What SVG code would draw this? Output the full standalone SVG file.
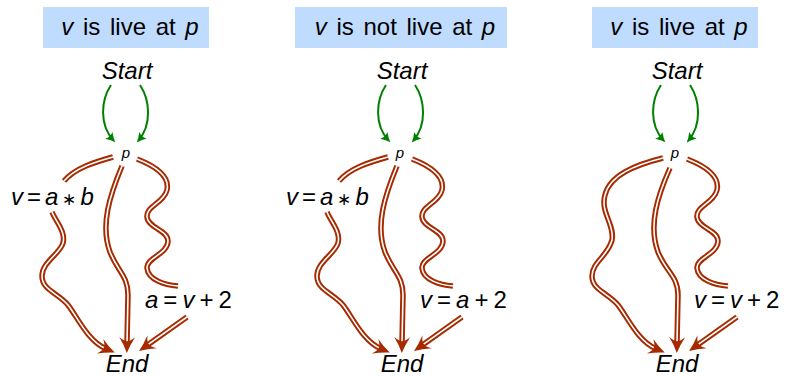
<svg xmlns="http://www.w3.org/2000/svg" width="787" height="376" viewBox="0 0 787 376">
<style>
  .title-box { fill: #bfdbfe; }
  .t { font-family: "Liberation Sans", Arial, sans-serif; fill: #000; }
  .title { font-size: 24px; word-spacing: 3px; }
  .node { font-size: 24px; font-style: italic; }
  .pnode { font-size: 15px; font-style: italic; }
  .lbl { font-size: 24px; }
  .i { font-style: italic; }
  .ast { font-size: 17px; }
  .g { fill: none; stroke: #008000; stroke-width: 2; marker-end: url(#ga); }
  .ro { fill: none; stroke: #a52a00; stroke-width: 5.5; }
  .ri { fill: none; stroke: #fff; stroke-width: 1.6; }
  .ra { marker-end: url(#ra); }
</style>
<defs>
  <marker id="ga" markerUnits="userSpaceOnUse" markerWidth="14" markerHeight="12" viewBox="-10 -6 14 12" refX="0" refY="0" orient="auto">
    <path d="M2.5,0 Q-2,-1.5 -7,-5 Q-4.5,0 -7,5 Q-2,1.5 2.5,0 Z" fill="#008000"/>
  </marker>
  <marker id="ra" markerUnits="userSpaceOnUse" markerWidth="20" markerHeight="20" viewBox="-8 -10 20 20" refX="0" refY="0" orient="auto">
    <path d="M10,0 Q2,-3 -6,-8 Q-1,-2 -2,0 Q-1,2 -6,8 Q2,3 10,0 Z" fill="#a52a00"/>
  </marker>
</defs>

<!-- Panel 1 -->
<g id="panel1">
  <g id="p1-title">
    <rect class="title-box" x="43" y="7" width="166" height="41"/>
    <text class="t title" x="130" y="35" text-anchor="middle"><tspan class="i">v</tspan> is live at <tspan class="i">p</tspan></text>
  </g>
  <g id="p1-start"><text class="t node" x="127" y="79" text-anchor="middle">Start</text></g>
  <g id="p1-p"><text class="t pnode" x="126" y="158" text-anchor="middle">p</text></g>
  <g id="p1-end"><text class="t node" x="127" y="372" text-anchor="middle">End</text></g>
  <g id="p1-lbl-left"><text class="t lbl" x="11" y="205"><tspan class="i">v</tspan><tspan dx="4">=</tspan><tspan class="i" dx="4">a</tspan><tspan class="ast" dx="4">∗</tspan><tspan class="i" dx="4">b</tspan></text></g>
  <g id="p1-lbl-right"><text class="t lbl" x="145" y="308"><tspan class="i">a</tspan><tspan dx="5">=</tspan><tspan class="i" dx="5">v</tspan><tspan dx="5">+</tspan><tspan dx="5">2</tspan></text></g>
  <g id="p1-connectors">
    <path class="g" d="M111,85 C101,100 99,125 113.6,140.5"/>
    <path class="g" d="M140,85 C150,100 152,125 138.4,140.5"/>
    <g id="p1-left">
      <path class="ro" d="M113,157 C95,162 75,168 64,181"/>
      <path class="ri" d="M113,157 C95,162 75,168 64,181"/>
      <path class="ro" d="M52,212 C56,222 66,232 63,243 C60,254 42,262 42,276 C42,290 58,293 68,305 C78,318 88,341 105.6,348.6"/>
      <path class="ri ra" d="M52,212 C56,222 66,232 63,243 C60,254 42,262 42,276 C42,290 58,293 68,305 C78,318 88,341 105.6,348.6"/>
    </g>
    <g id="p1-mid">
      <path class="ro" d="M122,166 C110,195 100,225 110,252 C118,272 128,276 128,295 L127,343"/>
      <path class="ri ra" d="M122,166 C110,195 100,225 110,252 C118,272 128,276 128,295 L127,343"/>
    </g>
    <g id="p1-right">
      <path class="ro" d="M137,159 C155,166 170,176 167,190 C164,203 146,206 147,217 C148,228 168,230 168,241 C168,254 146,258 147,268 C148,280 165,285 178,286"/>
      <path class="ri" d="M137,159 C155,166 170,176 167,190 C164,203 146,206 147,217 C148,228 168,230 168,241 C168,254 146,258 147,268 C148,280 165,285 178,286"/>
      <path class="ro" d="M187,317 L147.2,345.2"/>
      <path class="ri ra" d="M187,317 L147.2,345.2"/>
    </g>
  </g>
</g>

<!-- Panel 2 -->
<g id="panel2" transform="translate(275,0)">
  <g id="p2-title">
    <rect class="title-box" x="20" y="7" width="212" height="41"/>
    <text class="t title" x="130" y="35" text-anchor="middle"><tspan class="i">v</tspan> is not live at <tspan class="i">p</tspan></text>
  </g>
  <g id="p2-start"><text class="t node" x="127" y="79" text-anchor="middle">Start</text></g>
  <g id="p2-p"><text class="t pnode" x="125" y="158" text-anchor="middle">p</text></g>
  <g id="p2-end"><text class="t node" x="127" y="372" text-anchor="middle">End</text></g>
  <g id="p2-lbl-left"><text class="t lbl" x="11" y="205"><tspan class="i">v</tspan><tspan dx="4">=</tspan><tspan class="i" dx="4">a</tspan><tspan class="ast" dx="4">∗</tspan><tspan class="i" dx="4">b</tspan></text></g>
  <g id="p2-lbl-right"><text class="t lbl" x="145" y="308"><tspan class="i">v</tspan><tspan dx="5">=</tspan><tspan class="i" dx="5">a</tspan><tspan dx="5">+</tspan><tspan dx="5">2</tspan></text></g>
  <g id="p2-connectors">
    <path class="g" d="M111,85 C101,100 99,125 113.6,140.5"/>
    <path class="g" d="M140,85 C150,100 152,125 138.4,140.5"/>
    <g id="p2-left">
      <path class="ro" d="M113,157 C95,162 75,168 64,181"/>
      <path class="ri" d="M113,157 C95,162 75,168 64,181"/>
      <path class="ro" d="M52,212 C56,222 66,232 63,243 C60,254 42,262 42,276 C42,290 58,293 68,305 C78,318 88,341 105.6,348.6"/>
      <path class="ri ra" d="M52,212 C56,222 66,232 63,243 C60,254 42,262 42,276 C42,290 58,293 68,305 C78,318 88,341 105.6,348.6"/>
    </g>
    <g id="p2-mid">
      <path class="ro" d="M122,166 C110,195 100,225 110,252 C118,272 128,276 128,295 L127,343"/>
      <path class="ri ra" d="M122,166 C110,195 100,225 110,252 C118,272 128,276 128,295 L127,343"/>
    </g>
    <g id="p2-right">
      <path class="ro" d="M137,159 C155,166 170,176 167,190 C164,203 146,206 147,217 C148,228 168,230 168,241 C168,254 146,258 147,268 C148,280 165,285 178,286"/>
      <path class="ri" d="M137,159 C155,166 170,176 167,190 C164,203 146,206 147,217 C148,228 168,230 168,241 C168,254 146,258 147,268 C148,280 165,285 178,286"/>
      <path class="ro" d="M187,317 L147.2,345.2"/>
      <path class="ri ra" d="M187,317 L147.2,345.2"/>
    </g>
  </g>
</g>

<!-- Panel 3 -->
<g id="panel3" transform="translate(550,0)">
  <g id="p3-title">
    <rect class="title-box" x="42" y="7" width="166" height="41"/>
    <text class="t title" x="129" y="35" text-anchor="middle"><tspan class="i">v</tspan> is live at <tspan class="i">p</tspan></text>
  </g>
  <g id="p3-start"><text class="t node" x="127" y="79" text-anchor="middle">Start</text></g>
  <g id="p3-p"><text class="t pnode" x="125" y="158" text-anchor="middle">p</text></g>
  <g id="p3-end"><text class="t node" x="127" y="372" text-anchor="middle">End</text></g>
  <g id="p3-lbl-right"><text class="t lbl" x="144" y="308"><tspan class="i">v</tspan><tspan dx="5">=</tspan><tspan class="i" dx="5">v</tspan><tspan dx="5">+</tspan><tspan dx="5">2</tspan></text></g>
  <g id="p3-connectors">
    <path class="g" d="M111,85 C101,100 99,125 113.6,140.5"/>
    <path class="g" d="M140,85 C150,100 152,125 138.4,140.5"/>
    <g id="p3-left">
      <path class="ro" d="M113,158 C85,165 60,175 55,195 C50,212 65,225 62,240 C58,256 42,262 42,276 C42,290 58,293 68,305 C78,318 88,341 105.6,348.6"/>
      <path class="ri ra" d="M113,158 C85,165 60,175 55,195 C50,212 65,225 62,240 C58,256 42,262 42,276 C42,290 58,293 68,305 C78,318 88,341 105.6,348.6"/>
    </g>
    <g id="p3-mid">
      <path class="ro" d="M120,168 C108,195 98,225 108,252 C116,272 128,276 128,295 L127,343"/>
      <path class="ri ra" d="M120,168 C108,195 98,225 108,252 C116,272 128,276 128,295 L127,343"/>
    </g>
    <g id="p3-right">
      <path class="ro" d="M137,159 C155,166 170,176 167,190 C164,203 146,206 147,217 C148,228 168,230 168,241 C168,254 146,258 147,268 C148,280 165,285 178,286"/>
      <path class="ri" d="M137,159 C155,166 170,176 167,190 C164,203 146,206 147,217 C148,228 168,230 168,241 C168,254 146,258 147,268 C148,280 165,285 178,286"/>
      <path class="ro" d="M187,317 L147.2,345.2"/>
      <path class="ri ra" d="M187,317 L147.2,345.2"/>
    </g>
  </g>
</g>
</svg>
